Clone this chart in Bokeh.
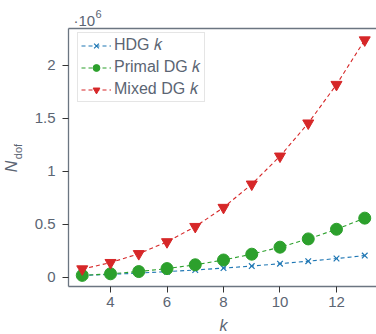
import math
from bokeh.plotting import figure
from bokeh.models import (Range1d, Label, Legend, LegendItem, FixedTicker, LinearAxis)
from bokeh.embed import file_html
from bokeh.resources import INLINE

# ---- data ----
k = [3, 4, 5, 6, 7, 8, 9, 10, 11, 12, 13]
hdg = [19.7e3, 29.6e3, 41.4e3, 55.2e3, 70.9e3, 88.7e3, 108e3, 130e3, 154e3, 179e3, 207e3]
primal = [20e3, 35e3, 56e3, 84e3, 120e3, 165e3, 220e3, 286e3, 364e3, 455e3, 560e3]
mixed = [80e3, 140e3, 224e3, 336e3, 480e3, 660e3, 880e3, 1144e3, 1456e3, 1820e3, 2240e3]
series_names = ["HDG 𝑘", "Primal DG 𝑘", "Mixed DG 𝑘"]
x_ticks = [4, 6, 8, 10, 12]
y_ticks = [0, 500000, 1000000, 1500000, 2000000]
y_tick_labels = ["0", "0.5", "1", "1.5", "2"]

# axes box (data coordinates of the spines)
x_lo, x_hi = 2.513, 13.416
y_lo, y_hi = -0.0849e6, 2.349e6

BLUE = "#1f77b4"
GREEN = "#2ca02c"
RED = "#d62728"
TEXT = "#5b6573"
AXIS = "#6b7581"
FONT = "Liberation Sans"

W, H = 376, 334
# the frame covers the whole canvas; the axes sit at fixed locations inside it
p = figure(width=W, height=H, output_backend="svg", toolbar_location=None,
           x_range=Range1d(0.106, x_hi), y_range=Range1d(-0.5377e6, 2.613e6),
           min_border=0, min_border_left=0, min_border_right=0,
           min_border_top=0, min_border_bottom=0)
p.outline_line_color = None
p.grid.visible = False
p.background_fill_color = "white"
p.border_fill_color = "white"

for ax in (p.xaxis[0], p.yaxis[0]):
    ax.axis_line_color = AXIS
    ax.axis_line_width = 1.3
    ax.major_tick_line_color = "#333333"
    ax.major_tick_out = 6
    ax.major_tick_in = 0
    ax.minor_tick_line_color = None
    ax.major_label_text_font = FONT
    ax.major_label_text_font_size = "15px"
    ax.major_label_text_color = TEXT

p.xaxis.ticker = FixedTicker(ticks=x_ticks)
p.yaxis.ticker = FixedTicker(ticks=y_ticks)
p.yaxis.major_label_overrides = {t: s for t, s in zip(y_ticks, y_tick_labels)}
p.xaxis.fixed_location = y_lo
p.yaxis.fixed_location = x_lo
p.xaxis.bounds = (x_lo, x_hi)
p.yaxis.bounds = (y_lo, y_hi)
p.xaxis.major_label_standoff = 5
p.yaxis.major_label_standoff = 7

top = LinearAxis(fixed_location=y_hi, bounds=(x_lo, x_hi), ticker=FixedTicker(ticks=[]),
                 axis_line_color=AXIS, axis_line_width=1.3, major_tick_line_color=None,
                 minor_tick_line_color=None, major_label_text_font_size="0px")
p.add_layout(top, "above")

dash = "4 3"
l1 = p.line(k, hdg, line_color=BLUE, line_dash=dash, line_width=1.1)
s1 = p.scatter(k, hdg, marker="x", size=8, line_color=BLUE, line_width=1.2)
l2 = p.line(k, primal, line_color=GREEN, line_dash=dash, line_width=1.1)
s2 = p.scatter(k, primal, marker="circle", size=12, fill_color=GREEN, line_color=GREEN)
l3 = p.line(k, mixed, line_color=RED, line_dash=dash, line_width=1.1)
s3 = p.scatter(k, mixed, marker="inverted_triangle", size=11, fill_color=RED, line_color=RED)

legend = Legend(items=[LegendItem(label=series_names[0], renderers=[l1, s1]),
                       LegendItem(label=series_names[1], renderers=[l2, s2]),
                       LegendItem(label=series_names[2], renderers=[l3, s3])],
                location=(77, H - 102), margin=0, padding=3, spacing=4,
                label_height=17, glyph_height=17, glyph_width=30, label_standoff=3,
                label_text_font=FONT, label_text_font_size="16px", label_text_color=TEXT,
                border_line_color="#cccccc", border_line_width=1, background_fill_alpha=1)
p.add_layout(legend)

def lab(x, y, text, size, style="normal", angle=0.0, align="center", baseline="middle"):
    p.add_layout(Label(x=x, y=y, x_units="screen", y_units="screen", text=text,
                       angle=angle, text_font=FONT, text_font_style=style,
                       text_font_size=size, text_color=TEXT, text_align=align,
                       text_baseline=baseline))

lab(223, H - 325, "k", "16px", style="italic")                     # x-axis label
lab(11, H - 166, "N", "16px", style="italic", angle=math.pi / 2)   # y-axis label N
lab(17, H - 151, "dof", "11px", angle=math.pi / 2)                 # subscript dof
lab(73, H - 20, "·10", "15px", align="left", baseline="alphabetic")
lab(95, H - 13, "6", "11px", align="left", baseline="alphabetic")

open("out.html", "w").write(file_html(p, INLINE))
